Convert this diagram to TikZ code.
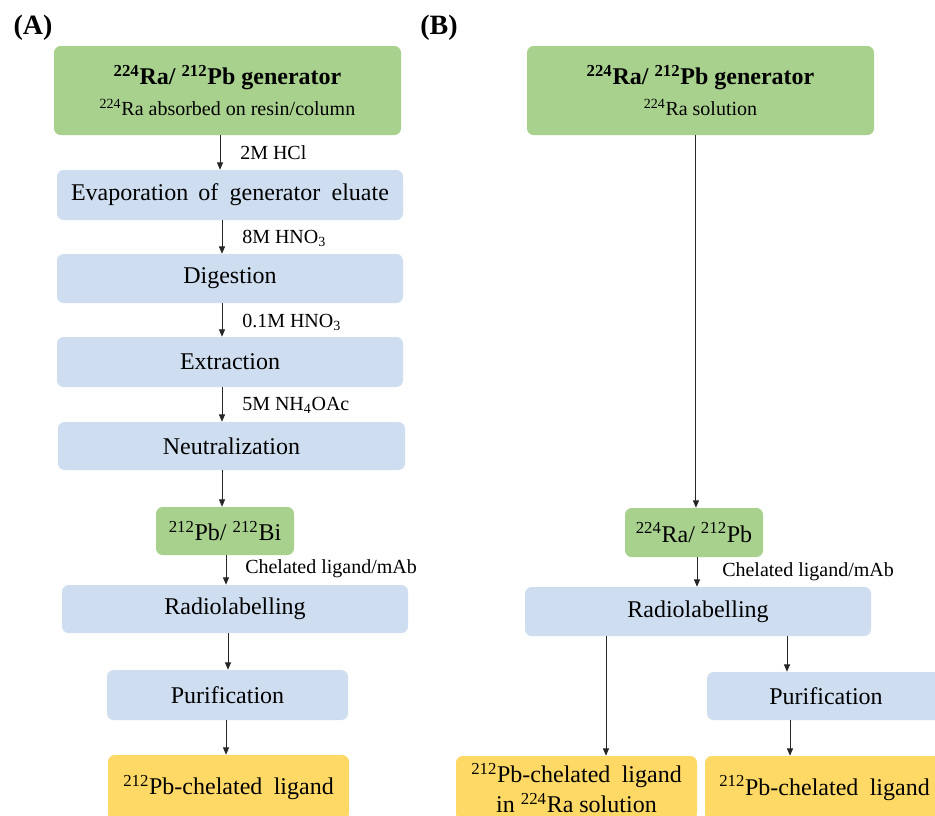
\documentclass[tikz,border=0pt]{standalone}
\usepackage{fontspec}
\setmainfont{Liberation Serif}
\usetikzlibrary{arrows.meta}
\definecolor{gfill}{HTML}{A9D18E}
\definecolor{bfill}{HTML}{CEDEF0}
\definecolor{yfill}{HTML}{FFD966}
\begin{document}
\begin{tikzpicture}[x=0.75pt,y=-0.75pt,
  box/.style={rounded corners=5pt, inner sep=0pt, draw=none, align=center,
    font=\fontsize{18}{22.5}\selectfont},
  gbox/.style={box, fill=gfill},
  bbox/.style={box, fill=bfill},
  ybox/.style={box, fill=yfill},
  lab/.style={anchor=west, inner sep=0pt, font=\fontsize{15}{18}\selectfont},
  panel/.style={inner sep=0pt, font=\fontsize{21}{24}\selectfont\bfseries},
  arr/.style={-{Triangle[length=5.5pt,width=4.5pt]}, line width=0.75pt, black!85}]
\clip (0,0) rectangle (935,815);
\fill[white] (0,0) rectangle (935,815);

% panel labels
\node[panel] (pA) at (33,28) {(A)};
\node[panel] (pB) at (439,28) {(B)};

% ---------- column A ----------
\node[gbox, minimum width=260.25pt, minimum height=66.75pt] (genA) at (227.5,90.5)
  {{\bfseries\textsuperscript{224}Ra/ \textsuperscript{212}Pb generator}\\[1pt]
   {\fontsize{15}{18}\selectfont\textsuperscript{224}Ra absorbed on resin/column}};
\node[bbox, minimum width=259.5pt, minimum height=37.5pt] (evap) at (230,195)
  {Evaporation\hspace{3pt} of\hspace{4pt} generator\hspace{4pt} eluate};
\node[bbox, minimum width=259.5pt, minimum height=36.75pt] (dig) at (230,278.5) {Digestion};
\node[bbox, minimum width=259.5pt, minimum height=37.5pt] (ext) at (230,362) {Extraction};
\node[bbox, minimum width=260.25pt, minimum height=36pt] (neu) at (231.5,446) {Neutralization};
\node[gbox, minimum width=103.5pt, minimum height=36pt] (pbbi) at (225,531)
  {\textsuperscript{212}Pb/ \textsuperscript{212}Bi};
\node[bbox, minimum width=259.5pt, minimum height=36pt] (radA) at (235,609) {Radiolabelling};
\node[bbox, minimum width=180.75pt, minimum height=37.5pt] (purA) at (227.5,695) {Purification};
\node[ybox, minimum width=180.75pt, minimum height=48.75pt] (yA) at (228.5,787.5)
  {\textsuperscript{212}Pb-chelated\hspace{4pt} ligand};

\node[lab] (l1) at (240,153) {2M HCl};
\node[lab] (l2) at (242,238) {8M HNO\textsubscript{3}};
\node[lab] (l3) at (242,322) {0.1M HNO\textsubscript{3}};
\node[lab] (l4) at (242,405) {5M NH\textsubscript{4}OAc};
\node[lab] (l5) at (245,569) {Chelated ligand/mAb};

\draw[arr] ([xshift=-5.6pt]genA.south) coordinate (a1) -- (a1 |- evap.north);
\draw[arr] ([xshift=-6pt]evap.south) coordinate (a2) -- (a2 |- dig.north);
\draw[arr] ([xshift=-6pt]dig.south) coordinate (a3) -- (a3 |- ext.north);
\draw[arr] ([xshift=-6pt]ext.south) coordinate (a4) -- (a4 |- neu.north);
\draw[arr] ([xshift=-7.1pt]neu.south) coordinate (a5) -- (a5 |- pbbi.north);
\draw[arr] ([xshift=0.75pt]pbbi.south) coordinate (a6) -- (a6 |- radA.north);
\draw[arr] ([xshift=-5.25pt]radA.south) coordinate (a7) -- (a7 |- purA.north);
\draw[arr] ([xshift=-1.1pt]purA.south) coordinate (a8) -- (a8 |- yA.north);

% ---------- column B ----------
\node[gbox, minimum width=260.25pt, minimum height=66.75pt] (genB) at (700.5,90.5)
  {{\bfseries\textsuperscript{224}Ra/ \textsuperscript{212}Pb generator}\\[1pt]
   {\fontsize{15}{18}\selectfont\textsuperscript{224}Ra solution}};
\node[gbox, minimum width=103.5pt, minimum height=36.75pt] (rapb) at (694,532.5)
  {\textsuperscript{224}Ra/ \textsuperscript{212}Pb};
\node[bbox, minimum width=259.5pt, minimum height=36.75pt] (radB) at (698,611.5) {Radiolabelling};
\node[bbox, minimum width=178.5pt, minimum height=36pt] (purB) at (826,696) {Purification};
\node[ybox, minimum width=180.75pt, minimum height=48pt] (yB1) at (576.5,788)
  {\textsuperscript{212}Pb-chelated\hspace{4pt} ligand\\in \textsuperscript{224}Ra solution};
\node[ybox, minimum width=179.25pt, minimum height=48pt] (yB2) at (824.5,788)
  {\textsuperscript{212}Pb-chelated\hspace{4pt} ligand};

\node[lab] (l6) at (722,572) {Chelated ligand/mAb};

\draw[arr] ([xshift=-3.4pt]genB.south) coordinate (b1) -- (b1 |- rapb.north);
\draw[arr] ([xshift=2.25pt]rapb.south) coordinate (b2) -- (b2 |- radB.north);
\draw[arr] ([xshift=-69pt]radB.south) coordinate (b3) -- (b3 |- yB1.north);
\draw[arr] ([xshift=66.75pt]radB.south) coordinate (b4) -- (b4 |- purB.north);
\draw[arr] ([xshift=-27pt]purB.south) coordinate (b5) -- (b5 |- yB2.north);
\end{tikzpicture}
\end{document}
